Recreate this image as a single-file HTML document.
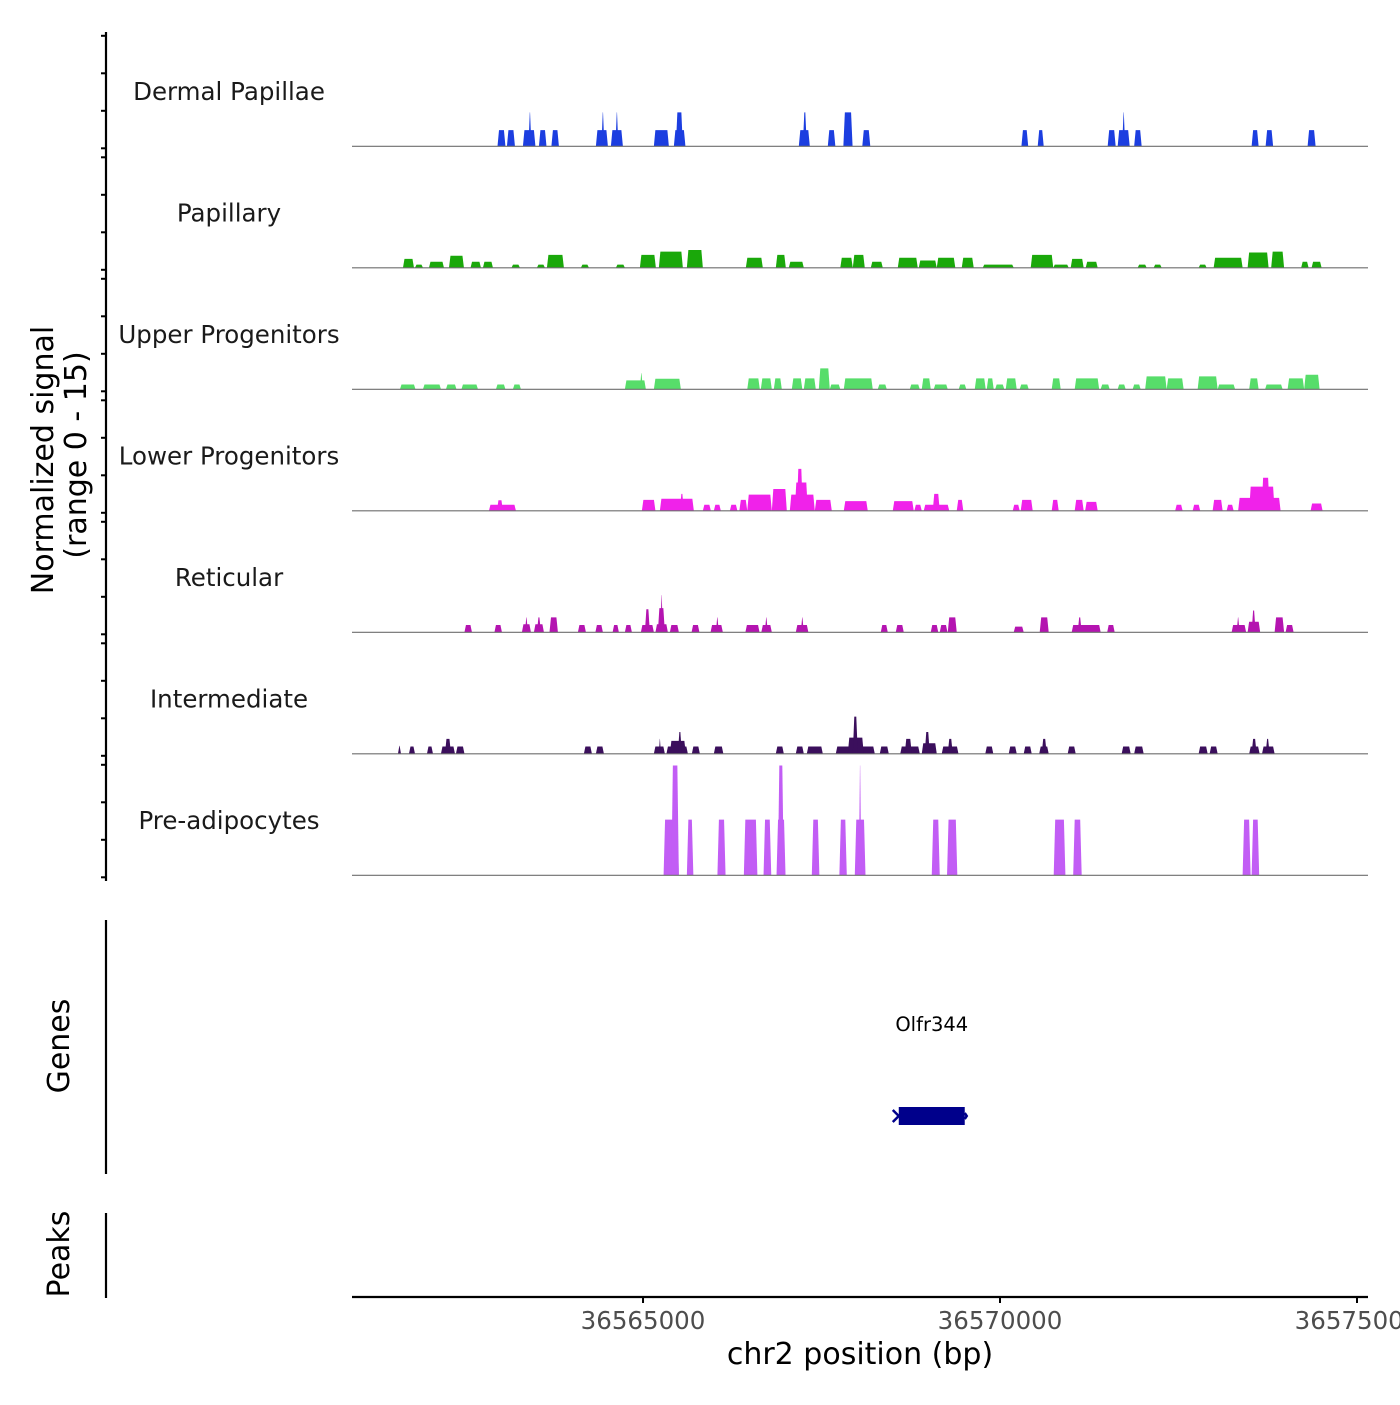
<!DOCTYPE html>
<html><head><meta charset="utf-8"><style>
html,body{margin:0;padding:0;background:#fff;}
svg text{font-family:"DejaVu Sans","Liberation Sans",sans-serif;}
</style></head><body>
<svg id="chart" width="1400" height="1400" xmlns="http://www.w3.org/2000/svg">
<g id="axes"></g>
<g id="tracks"></g>
<text transform="translate(53,460) rotate(-90)" text-anchor="middle" font-size="30" fill="#000">Normalized signal</text>
<text transform="translate(86,455) rotate(-90)" text-anchor="middle" font-size="30" fill="#000">(range 0 - 15)</text>
<text transform="translate(69,1046) rotate(-90)" text-anchor="middle" font-size="30" fill="#000">Genes</text>
<text transform="translate(69,1254) rotate(-90)" text-anchor="middle" font-size="30" fill="#000">Peaks</text>
<text x="860" y="1364" text-anchor="middle" font-size="30" fill="#000">chr2 position (bp)</text>
</svg>
<script>
const trackNames = ["Dermal Papillae","Papillary","Upper Progenitors","Lower Progenitors","Reticular","Intermediate","Pre-adipocytes"];
const trackColors = ["#1c3ee0","#1aa80a","#57dd6a","#f022ea","#b414b0","#3b0f5c","#c25df5"];
const xTicks = [36565000,36570000,36575000];
const xTickLabels = ["36565000","36570000","36575000"];
const geneName = "Olfr344";
const geneStart = 36568582;
const geneEnd = 36569506;

const dpStarts = [36562962,36563094,36563318,36563395,36563542,36563717,36564340,36564417,36564550,36564613,36565152,36565432,36565460,36567182,36567238,36567588,36567806,36568071,36570300,36570528,36571508,36571648,36571711,36571879,36573524,36573720,36574308];
const dpEnds   = [36563073,36563206,36563493,36563437,36563648,36563822,36564508,36564459,36564718,36564655,36565362,36565594,36565558,36567336,36567294,36567694,36567935,36568183,36570395,36570612,36571620,36571816,36571753,36571984,36573622,36573825,36574420];
const dpValues = [2,2,2,4.2,2,2,2,4.2,2,4.2,2,2,4.2,2,4.2,2,4.2,2,2,2,2,2,4.2,2,2,2,2];

const paStarts = [36561638,36561806,36562002,36562282,36562584,36562758,36563158,36563514,36563654,36564130,36564620,36564956,36565222,36565614,36566440,36566860,36567042,36567763,36567938,36568190,36568568,36568862,36569114,36569464,36569758,36570430,36570746,36570990,36571200,36571928,36572152,36572782,36572992,36573468,36573798,36574218,36574364];
const paEnds   = [36561792,36561918,36562212,36562492,36562730,36562898,36563276,36563626,36563892,36564242,36564746,36565180,36565558,36565838,36566678,36567000,36567252,36567938,36568106,36568358,36568848,36569114,36569374,36569632,36570192,36570746,36570962,36571172,36571368,36572054,36572264,36572894,36573398,36573762,36573979,36574322,36574504];
const paValues = [1.1,0.4,0.75,1.5,0.75,0.75,0.4,0.4,1.6,0.4,0.4,1.6,2.0,2.2,1.25,1.6,0.75,1.25,1.6,0.75,1.25,0.9,1.25,1.25,0.4,1.6,0.4,1.1,0.75,0.4,0.4,0.4,1.25,1.9,2.0,0.75,0.75];

const upStarts = [36561596,36561918,36562240,36562457,36562940,36563178,36564746,36564956,36565152,36566460,36566650,36566832,36567084,36567252,36567462,36567616,36567812,36568288,36568736,36568904,36569072,36569422,36569646,36569814,36569932,36570080,36570276,36570724,36571046,36571410,36571648,36571858,36572033,36572334,36572768,36573048,36573490,36573713,36574028,36574260];
const upEnds   = [36561813,36562170,36562387,36562688,36563073,36563290,36565040,36564998,36565530,36566636,36566804,36566944,36567231,36567420,36567616,36567763,36568218,36568414,36568876,36569030,36569268,36569528,36569800,36569912,36570060,36570234,36570402,36570850,36571389,36571536,36571760,36571970,36572334,36572572,36573048,36573293,36573622,36573958,36574260,36574476];
const upValues = [0.6,0.6,0.6,0.6,0.6,0.6,1.1,2.0,1.3,1.35,1.35,1.35,1.35,1.35,2.6,0.6,1.35,0.6,0.6,1.35,0.6,0.6,1.35,1.35,0.6,1.35,0.6,1.35,1.35,0.6,0.6,0.6,1.6,1.35,1.6,0.6,1.35,0.6,1.35,1.8];

const lpStarts = [36562842,36562954,36564984,36565236,36565516,36565838,36565992,36566216,36566349,36566460,36566804,36567056,36567126,36567154,36567406,36567812,36568498,36568800,36568932,36569058,36569394,36570178,36570290,36570724,36571046,36571192,36572453,36572698,36572978,36573174,36573335,36573490,36573664,36574350];
const lpEnds   = [36563220,36563038,36565174,36565712,36565572,36565950,36566090,36566322,36566460,36566804,36567014,36567406,36567308,36567238,36567644,36568148,36568792,36568904,36569289,36569156,36569486,36570276,36570458,36570822,36571172,36571368,36572558,36572804,36573118,36573272,36573930,36573846,36573776,36574518];
const lpValues = [0.75,1.3,1.35,1.5,2.1,0.75,0.75,0.75,1.35,2.0,2.7,2.0,3.5,5.2,1.35,1.2,1.2,0.75,0.75,2.1,1.35,0.75,1.35,1.35,1.35,1.1,0.75,0.75,1.35,0.75,1.6,3.0,4.1,0.9];

const rtStarts = [36562499,36562919,36563304,36563346,36563472,36563514,36563690,36564088,36564333,36564574,36564746,36564970,36565026,36565174,36565208,36565243,36565376,36565680,36565946,36566020,36566434,36566657,36566706,36567140,36567210,36568330,36568540,36569030,36569156,36569268,36570192,36570556,36571004,36571088,36571501,36573244,36573314,36573468,36573524,36573846,36574000];
const rtEnds   = [36562604,36563024,36563430,36563388,36563612,36563570,36563808,36564200,36564438,36564662,36564844,36565152,36565096,36565348,36565306,36565278,36565502,36565790,36566118,36566062,36566632,36566804,36566748,36567316,36567252,36568428,36568652,36569135,36569264,36569394,36570332,36570682,36571410,36571144,36571606,36573447,36573356,36573644,36573580,36573979,36574112];
const rtValues = [0.9,0.9,1.0,1.85,1.0,1.85,1.85,0.9,0.9,0.9,0.9,0.9,2.85,1.0,3.0,4.6,0.9,0.9,0.9,1.85,0.9,0.9,1.85,0.9,1.85,0.9,0.9,0.9,0.9,1.85,0.7,1.85,0.9,1.85,0.9,0.9,1.85,1.3,2.7,1.85,0.9];

const inStarts = [36561568,36561722,36561974,36562170,36562226,36562380,36564172,36564340,36565152,36565222,36565328,36565376,36565488,36565684,36565992,36566860,36567140,36567294,36567700,36567868,36567938,36568316,36568603,36568666,36568904,36568946,36569184,36569268,36569794,36570122,36570332,36570549,36570584,36570948,36571704,36571879,36572782,36572936,36573490,36573524,36573670,36573720];
const inEnds   = [36561610,36561806,36562058,36562366,36562310,36562499,36564284,36564452,36565306,36565250,36565628,36565600,36565544,36565796,36566125,36566972,36567252,36567518,36568246,36568092,36568008,36568442,36568876,36568764,36569114,36569016,36569418,36569338,36569906,36570234,36570444,36570682,36570654,36571060,36571830,36572012,36572908,36573048,36573636,36573594,36573846,36573776];
const inValues = [1.0,0.9,0.9,0.9,1.85,0.9,0.9,0.9,0.9,1.85,0.9,1.6,2.7,0.9,0.9,0.9,0.9,0.9,0.9,2.0,4.6,0.9,0.9,1.85,1.3,2.7,0.9,1.85,0.9,0.9,0.9,0.9,1.85,0.9,0.9,0.9,0.9,0.9,0.9,1.85,0.9,1.85];

const prStarts = [36565288,36565397,36565614,36566042,36566412,36566688,36566870,36566888,36567364,36567750,36567966,36568022,36569044,36569258,36570752,36571025,36573398,36573524];
const prEnds   = [36565502,36565502,36565705,36566156,36566602,36566796,36566996,36566972,36567470,36567854,36568116,36568058,36569156,36569402,36570916,36571144,36573510,36573630];
const prValues = [6.9,13.6,6.9,6.9,6.9,6.9,6.9,13.6,6.9,6.9,6.9,13.6,6.9,6.9,6.9,6.9,6.9,6.9];

const trackStarts = [dpStarts,paStarts,upStarts,lpStarts,rtStarts,inStarts,prStarts];
const trackEnds = [dpEnds,paEnds,upEnds,lpEnds,rtEnds,inEnds,prEnds];
const trackValues = [dpValues,paValues,upValues,lpValues,rtValues,inValues,prValues];

const NS = "http://www.w3.org/2000/svg";
const X0 = 352, X1 = 1368, BP0 = 36560924, BPPX = 14.006;
function xScale(bp){ return X0 + (bp - BP0) / BPPX; }
const TRACK_TOP = 25, TRACK_H = 121.5, UNIT = 8.07;
function baseY(i){ return TRACK_TOP + (i + 1) * TRACK_H - 0.2; }
function yScale(i, v){ return baseY(i) - v * UNIT; }
function mk(tag, attrs, parent){
  const e = document.createElementNS(NS, tag);
  for (const k in attrs) e.setAttribute(k, attrs[k]);
  parent.appendChild(e);
  return e;
}
const axes = document.getElementById('axes');
const tracks = document.getElementById('tracks');

let la = mk('line', {x1:106,y1:32,x2:106,y2:881,stroke:'#000','stroke-width':2.2}, axes);


let ga = mk('line', {x1:106,y1:920,x2:106,y2:1174,stroke:'#000','stroke-width':2.2}, axes);


let pa = mk('line', {x1:106,y1:1213,x2:106,y2:1298,stroke:'#000','stroke-width':2.2}, axes);



for (let i = 0; i < 7; i++) {
  for (let k = 0; k < 4; k++) {
    const y = baseY(i) + 2 - k * 37.5;
    const t = mk('line', {x1:101,y1:y,x2:106,y2:y,stroke:'#000','stroke-width':2}, axes);
    
    
  }
}

for (let i = 0; i < 7; i++) {
  const g = mk('g', {}, tracks);
  
  
  const lbl = mk('text', {x:229, y:TRACK_TOP + i*TRACK_H + 75, 'text-anchor':'middle','font-size':'24.5',fill:'#1a1a1a'}, g);
  lbl.textContent = trackNames[i];
  
  
  const s = trackStarts[i], e = trackEnds[i], v = trackValues[i];
  for (let j = 0; j < s.length; j++) {
    const xa = xScale(s[j]), xb = xScale(e[j]);
    const yb = baseY(i), yt = yScale(i, v[j]);
    const sl = Math.min(1.5, (xb - xa) / 2.2);
    const p = mk('polygon', {points:`${xa},${yb} ${xa+sl},${yt} ${xb-sl},${yt} ${xb},${yb}`, fill:trackColors[i]}, g);
    
    
  }
  const bl = mk('line', {x1:X0,y1:baseY(i),x2:X1,y2:baseY(i),stroke:'#6e6e6e','stroke-width':1.2}, g);
  
  
}

const gx0 = xScale(geneStart), gx1 = xScale(geneEnd);
const gr = mk('rect', {x:gx0, y:1107, width:gx1-gx0, height:18, fill:'#00008b'}, axes);


const gl = mk('path', {d:`M${gx0-6},1110 L${gx0},1116 L${gx0-6},1122 M${gx1},1113 L${gx1+2},1116 L${gx1},1119`, stroke:'#00008b','stroke-width':2.5, fill:'none'}, axes);


const gt = mk('text', {x:(gx0+gx1)/2, y:1031, 'text-anchor':'middle','font-size':'19.5',fill:'#000'}, axes);
gt.textContent = geneName;



const xa = mk('line', {x1:X0,y1:1297,x2:X1,y2:1297,stroke:'#000','stroke-width':2.2}, axes);


for (let k = 0; k < xTicks.length; k++) {
  const x = xScale(xTicks[k]);
  const t = mk('line', {x1:x,y1:1297,x2:x,y2:1303,stroke:'#000','stroke-width':2}, axes);
  
  
  const l = mk('text', {x:x, y:1329, 'text-anchor':'middle','font-size':'24.5',fill:'#4d4d4d'}, axes);
  l.textContent = xTickLabels[k];
  
  
}
</script>
</body></html>
